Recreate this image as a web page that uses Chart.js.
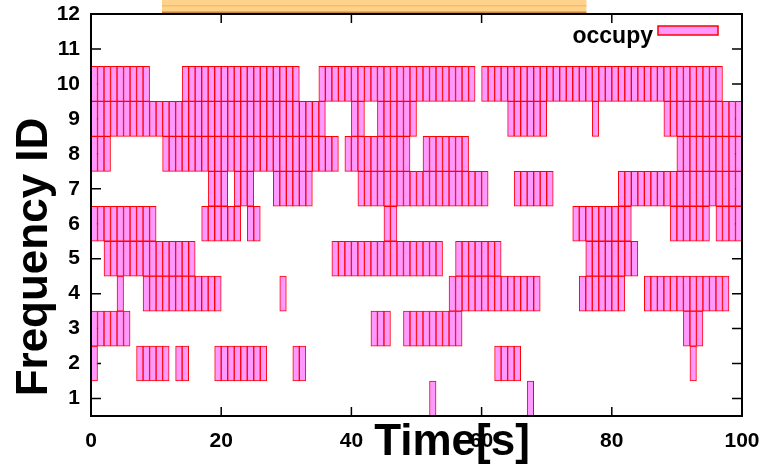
<!DOCTYPE html>
<html>
<head>
<meta charset="utf-8">
<script src="https://cdn.jsdelivr.net/npm/chart.js@4.4.1/dist/chart.umd.min.js"></script>
<style>
  html, body { margin: 0; padding: 0; background: #fff; }
  #wrap { width: 769px; height: 466px; }
</style>
</head>
<body>
<div id="wrap"><canvas id="myChart" width="769" height="466"></canvas></div>
<script>
// frequency channels on the y axis
const frequencyIds = [1, 2, 3, 4, 5, 6, 7, 8, 9, 10];
// occupancy of each 1 s time slot (0..99), one string per frequency, groups of 10 slots
const slotsF1  = '0000000000 0000000000 0000000000 0000000000 0000000000 0010000000 0000000100 0000000000 0000000000 0000000000';
const slotsF2  = '1000000111 1101100001 1111111000 0110000000 0000000000 0000000000 0011110000 0000000000 0000000000 0010000000';
const slotsF3  = '1111110000 0000000000 0000000000 0000000000 0001110011 1111111000 0000000000 0000000000 0000000000 0111000000';
const slotsF4  = '0000100011 1111111111 0000000001 0000000000 0000000000 0000011111 1111111110 0000011111 1100011111 1111111100';
const slotsF5  = '0011111111 1111110000 0000000000 0000000111 1111111111 1111001111 1110000000 0000001111 1111000000 0000000000';
const slotsF6  = '1111111111 0000000111 1110110000 0000000000 0000011000 0000000000 0000000000 0000111111 1110000001 1111101111';
const slotsF7  = '0000000000 0000000011 1011100011 1111000000 0111111111 1111111111 1000011111 1000000000 0111111111 1111111111';
const slotsF8  = '1110000000 0111111111 1111111111 1111111101 1111111110 0111111100 0000000000 0000000000 0000000000 1111111111';
const slotsF9  = '1111111111 1111111111 1111111111 1111110000 1100111111 0000000000 0000111111 0000000100 0000000011 1111111111';
const slotsF10 = '1111111110 0000111111 1111111111 1100011111 1111111111 1111111110 1111111111 1111111111 1111111111 1111111000';
const occupancy = [slotsF1, slotsF2, slotsF3, slotsF4, slotsF5, slotsF6, slotsF7, slotsF8, slotsF9, slotsF10];

const xTicks = [0, 20, 40, 60, 80, 100];
const yTicks = [1, 2, 3, 4, 5, 6, 7, 8, 9, 10, 11, 12];
// orange strip above the plot (time range)
const topStrip = [10.9, 76.1];

const cells = [];
occupancy.forEach((row, i) => {
    const f = frequencyIds[i];
    row.replace(/ /g, '').split('').forEach((c, t) => {
        if (c === '1') cells.push({ x: t + 0.5, y: [f - 0.5, f + 0.5] });
    });
});

const pink = '#ff99ff';
const red = '#ff0000';

// inward ticks on all four sides, like gnuplot
const innerTicks = {
    id: 'innerTicks',
    beforeDatasetsDraw(chart) {
        const { ctx, chartArea: a, scales: { x, y } } = chart;
        ctx.save();
        ctx.strokeStyle = '#000';
        ctx.lineWidth = 1.5;
        ctx.beginPath();
        xTicks.forEach(v => {
            const px = x.getPixelForValue(v);
            ctx.moveTo(px, a.bottom); ctx.lineTo(px, a.bottom - 9);
            ctx.moveTo(px, a.top); ctx.lineTo(px, a.top + 9);
        });
        yTicks.forEach(v => {
            const py = y.getPixelForValue(v);
            ctx.moveTo(a.left, py); ctx.lineTo(a.left + 10, py);
            ctx.moveTo(a.right, py); ctx.lineTo(a.right - 10, py);
        });
        ctx.stroke();
        ctx.restore();
    },
    afterDatasetsDraw(chart) {
        const { ctx, chartArea: a } = chart;
        ctx.save();
        ctx.strokeStyle = '#000';
        ctx.lineWidth = 2;
        ctx.strokeRect(a.left, a.top, a.right - a.left, a.bottom - a.top);
        ctx.restore();
    }
};

// titles, legend and the strip on top
const extras = {
    id: 'extras',
    afterDraw(chart) {
        const { ctx, chartArea: a, scales: { x } } = chart;
        ctx.save();

        const x0 = x.getPixelForValue(topStrip[0]);
        const x1 = x.getPixelForValue(topStrip[1]);
        ctx.fillStyle = 'rgb(255,210,140)';
        ctx.fillRect(x0, 0, x1 - x0, a.top - 1);
        ctx.fillStyle = 'rgb(248,188,100)';
        ctx.fillRect(x0, 5, x1 - x0, 1.5);
        ctx.fillStyle = 'rgb(195,135,60)';
        ctx.fillRect(x0, a.top - 2.5, x1 - x0, 1.5);

        ctx.fillStyle = '#000';
        ctx.font = 'bold 44px "Liberation Sans", Arial, sans-serif';
        ctx.textAlign = 'center';
        ctx.textBaseline = 'alphabetic';
        ctx.fillText('Time[s]', 452, 455);

        ctx.save();
        ctx.translate(47, 257);
        ctx.rotate(-Math.PI / 2);
        ctx.fillText('Frequency ID', 0, 0);
        ctx.restore();

        // legend
        ctx.font = 'bold 23px "Liberation Sans", Arial, sans-serif';
        ctx.textAlign = 'right';
        ctx.fillText('occupy', a.right - 89, 43);
        ctx.fillStyle = pink;
        ctx.fillRect(a.right - 84, 26, 60, 9);
        ctx.strokeStyle = red;
        ctx.lineWidth = 1.5;
        ctx.strokeRect(a.right - 84, 26, 60, 9);
        ctx.restore();
    }
};

const tickFont = { family: '"Liberation Sans", Arial, sans-serif', size: 21, weight: 'bold' };

new Chart(document.getElementById('myChart').getContext('2d'), {
    type: 'bar',
    data: {
        datasets: [{
            label: 'occupy',
            data: cells,
            backgroundColor: pink,
            borderColor: red,
            borderWidth: 1,
            borderSkipped: false,
            barPercentage: 1,
            categoryPercentage: 1
        }]
    },
    options: {
        responsive: false,
        animation: false,
        events: [],
        layout: { padding: { top: 14, right: 27, left: 0, bottom: 0 } },
        plugins: {
            legend: { display: false },
            tooltip: { enabled: false }
        },
        scales: {
            x: {
                type: 'linear',
                min: 0,
                max: 100,
                offset: false,
                grid: { display: false, drawTicks: false, offset: false },
                border: { display: false },
                afterBuildTicks(scale) { scale.ticks = xTicks.map(v => ({ value: v })); },
                afterFit(scale) {
                    scale.height = 50;
                    scale.paddingLeft = 0;
                    scale.paddingRight = 0;
                },
                ticks: { color: '#000', font: tickFont, padding: 13, maxRotation: 0, autoSkip: false }
            },
            y: {
                type: 'linear',
                min: 0.5,
                max: 12,
                beginAtZero: false,
                grid: { display: false, drawTicks: false },
                border: { display: false },
                afterBuildTicks(scale) { scale.ticks = yTicks.map(v => ({ value: v })); },
                afterFit(scale) {
                    scale.width = 91;
                    scale.paddingTop = 0;
                    scale.paddingBottom = 0;
                },
                ticks: { color: '#000', font: tickFont, padding: 11, autoSkip: false }
            }
        }
    },
    plugins: [innerTicks, extras]
});
</script>
</body>
</html>
